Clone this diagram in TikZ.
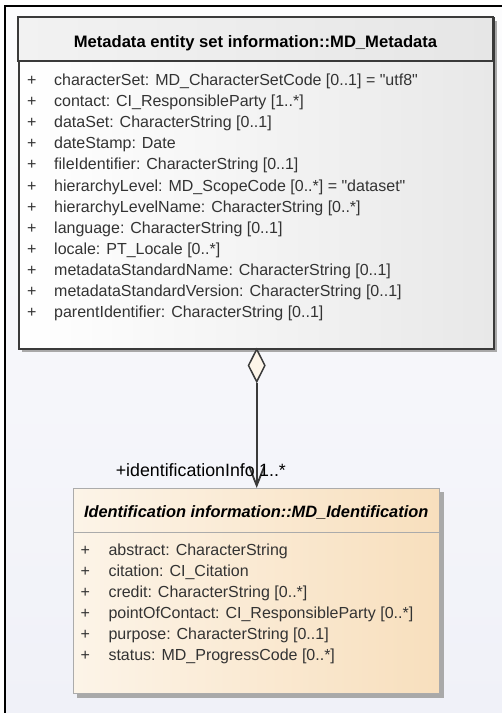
\documentclass[tikz,border=0pt]{standalone}
\usepackage{fontspec}
\setmainfont{Liberation Sans}[Ligatures=TeXOff]
\usetikzlibrary{arrows.meta,shapes.geometric}
\definecolor{bgtop}{HTML}{FCFCFD}
\definecolor{bgbot}{HTML}{F0F1F8}
\definecolor{metaL}{HTML}{FFFFFF}
\definecolor{metaR}{HTML}{E8E8E8}
\definecolor{headL}{HTML}{F2F2F2}
\definecolor{headR}{HTML}{E6E6E6}
\definecolor{idL}{HTML}{FCF4E8}
\definecolor{idR}{HTML}{F8DFBD}
\definecolor{shadowc}{HTML}{A9A9A9}
\definecolor{edgedark}{HTML}{3A3A3A}
\definecolor{edgelight}{HTML}{ABABAB}
\definecolor{txt}{HTML}{333333}
\definecolor{aggfill}{HTML}{FDF5E9}
\newcommand{\qq}{\symbol{34}}
\begin{document}
\begin{tikzpicture}[x=1pt,y=-1pt,
  attr/.style={anchor=base west, inner sep=0pt, text=txt, font=\fontsize{16.0}{20}\selectfont},
  plus/.style={anchor=base west, inner sep=0pt, text=txt, font=\fontsize{16.0}{20}\selectfont},
  title/.style={anchor=base, inner sep=0pt, font=\fontsize{16.6}{20}\selectfont\bfseries},
  lbl/.style={inner sep=0pt, text=black, font=\fontsize{17.8}{20}\selectfont}]
\useasboundingbox (0,0) rectangle (502,713);
\fill[white] (0,0) rectangle (502,713);
\shade[top color=bgtop, bottom color=bgbot] (5,6) rectangle (502,713);
\draw[line width=2pt] (5,713) -- (5,6) -- (502,6);

% MD_Metadata box
\fill[shadowc] (22,21) rectangle (497,352);
\node[draw=edgedark, line width=1.7pt, left color=metaL, right color=metaR,
  minimum width=475pt, minimum height=331pt, anchor=north west, inner sep=0pt] (meta) at (18,17) {};
\draw[edgedark, line width=1.7pt, left color=headL, right color=headR] (18,17) rectangle (493,61);
\node[title] (metat) at (255.5,47.5) {Metadata entity set information::MD\_Metadata};
\foreach \t [count=\i from 0] in {
  {characterSet: MD\_CharacterSetCode [0..1] = \qq utf8\qq},
  {contact: CI\_ResponsibleParty [1..*]},
  {dataSet: CharacterString [0..1]},
  {dateStamp: Date},
  {fileIdentifier: CharacterString [0..1]},
  {hierarchyLevel: MD\_ScopeCode [0..*] = \qq dataset\qq},
  {hierarchyLevelName: CharacterString [0..*]},
  {language: CharacterString [0..1]},
  {locale: PT\_Locale [0..*]},
  {metadataStandardName: CharacterString [0..1]},
  {metadataStandardVersion: CharacterString [0..1]},
  {parentIdentifier: CharacterString [0..1]}} {
  \node[plus] (mp\i) at (27,85.5+21.1*\i) {+};
  \node[attr] (ma\i) at (54,85.5+21.1*\i) {\t};
}

% MD_Identification box
\fill[shadowc] (77,492) rectangle (443.5,697.5);
\node[draw=edgelight, line width=1pt, left color=idL, right color=idR,
  minimum width=366.3pt, minimum height=205.3pt, anchor=north west, inner sep=0pt] (ident) at (73,488) {};
\draw[edgelight, line width=1pt] (73,532.7) -- (439.3,532.7);
\node[title, font=\fontsize{16.4}{20}\selectfont\bfseries\itshape] (identt) at (256.2,517.3) {Identification information::MD\_Identification};
\foreach \t [count=\i from 0] in {
  {abstract: CharacterString},
  {citation: CI\_Citation},
  {credit: CharacterString [0..*]},
  {pointOfContact: CI\_ResponsibleParty [0..*]},
  {purpose: CharacterString [0..1]},
  {status: MD\_ProgressCode [0..*]}} {
  \node[plus] (ip\i) at (80.5,555+21.1*\i) {+};
  \node[attr] (ia\i) at (108.3,555+21.1*\i) {\t};
}

% aggregation
\node[diamond, draw=edgedark, line width=1.5pt, fill=aggfill, aspect=0.5,
  minimum width=17pt, minimum height=33pt, inner sep=0pt] (agg) at (256.7,365.5) {};
\draw[edgedark, line width=1.8pt, -{Straight Barb[length=19pt,width=15pt,line width=1.8pt]}]
  (agg.south) -- (agg.south |- ident.north);
\node[lbl, anchor=base east] (role) at (255,476) {+identificationInfo};
\node[lbl, anchor=base west] (mult) at (259,476) {1..*};
\end{tikzpicture}
\end{document}
